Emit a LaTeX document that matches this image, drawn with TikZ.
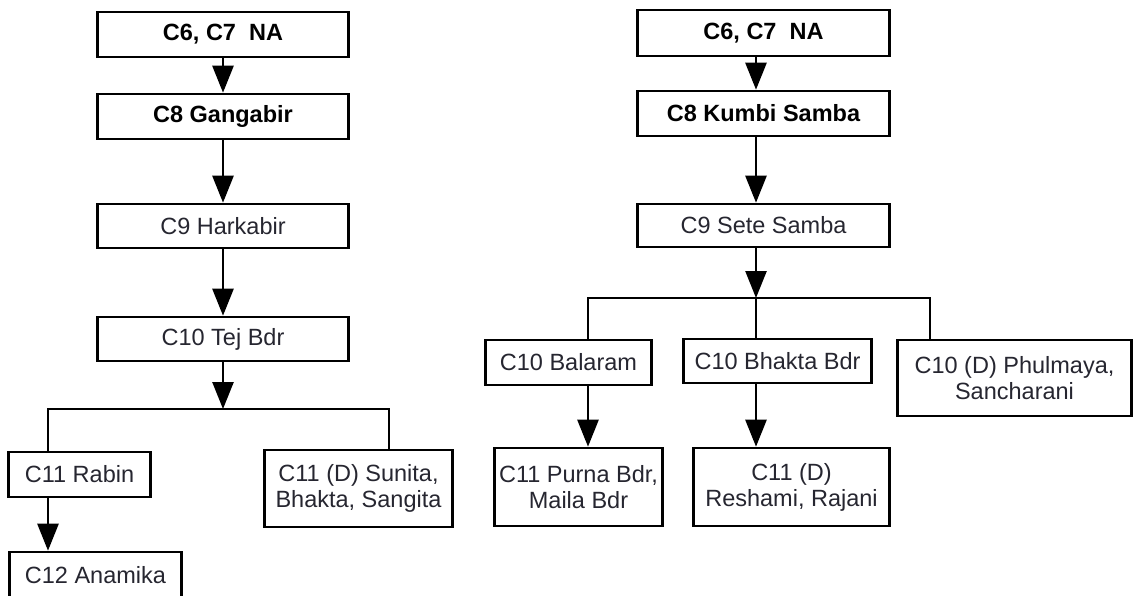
\documentclass[tikz,border=0pt]{standalone}
\usepackage{fontspec}
\setmainfont{Liberation Sans}
\usetikzlibrary{arrows.meta}
\definecolor{txt}{RGB}{38,38,48}
\tikzset{
  box/.style={draw=black, line width=2.6pt, fill=white, inner sep=0pt, align=center,
    text=txt, font=\fontsize{23.5}{26}\selectfont},
  topbox/.style={box, text=black, font=\fontsize{23.5}{26}\selectfont\bfseries},
  conn/.style={line width=2.6pt, draw=black},
  arr/.style={conn, -{Triangle[length=27pt,width=21pt]}}
}
\begin{document}
\begin{tikzpicture}[x=1pt,y=-1pt]
\path[use as bounding box, clip] (0,0) rectangle (1135,596);
% ---------- left tree ----------
\node[topbox, minimum width=251pt, minimum height=45pt] (a1) at (223,34.5) {C6, C7\ \ NA};
\node[topbox, minimum width=251pt, minimum height=45pt] (a2) at (223,116.5) {C8 Gangabir};
\node[box, minimum width=251pt, minimum height=44pt] (a3) at (223,226) {C9 Harkabir};
\node[box, minimum width=251pt, minimum height=44pt] (a4) at (223,339) {C10 Tej Bdr};
\node[box, minimum width=142pt, minimum height=45pt] (rabin) at (79.5,474.5) {C11 Rabin};
\node[box, minimum width=188pt, minimum height=77pt] (sunita) at (358.5,488.5) {C11 (D) Sunita,\\Bhakta, Sangita};
\node[box, minimum width=172pt, minimum height=46pt] (anamika) at (95.5,575) {C12 Anamika};
\coordinate (lbarL) at (48,409);
\coordinate (lbarR) at (389,409);
\coordinate (lbarM) at (223,409);
\draw[arr] (a1.south) -- (a2.north);
\draw[arr] (a2.south) -- (a3.north);
\draw[arr] (a3.south) -- (a4.north);
\draw[arr] (a4.south) -- (lbarM);
\draw[conn] (lbarL |- rabin.north) -- (lbarL) -- (lbarR) -- (lbarR |- sunita.north);
\draw[arr] (rabin.south -| lbarL) -- (anamika.north -| lbarL);
% ---------- right tree ----------
\coordinate (trunk) at (756,0);
\node[topbox, minimum width=252pt, minimum height=46pt] (b1) at (763.5,33) {C6, C7\ \ NA};
\node[topbox, minimum width=252pt, minimum height=45pt] (b2) at (763.5,113.5) {C8 Kumbi Samba};
\node[box, minimum width=252pt, minimum height=43pt] (b3) at (763.5,225.5) {C9 Sete Samba};
\node[box, minimum width=166pt, minimum height=45pt] (balaram) at (568.5,362.5) {C10 Balaram};
\node[box, minimum width=188pt, minimum height=44pt] (bhakta) at (777.5,361) {C10 Bhakta Bdr};
\node[box, minimum width=234pt, minimum height=76pt] (phul) at (1014.5,378) {C10 (D) Phulmaya,\\Sancharani};
\node[box, minimum width=168pt, minimum height=78pt] (purna) at (578.5,487) {C11 Purna Bdr,\\Maila Bdr};
\node[box, minimum width=196pt, minimum height=78pt] (resh) at (791.5,487) {C11 (D)\\Reshami, Rajani};
\coordinate (rbarL) at (588,298);
\coordinate (rbarR) at (930,298);
\coordinate (rbarM) at (756,298);
\draw[arr] (b1.south -| trunk) -- (b2.north -| trunk);
\draw[arr] (b2.south -| trunk) -- (b3.north -| trunk);
\draw[arr] (b3.south -| trunk) -- (rbarM);
\draw[conn] (rbarL |- balaram.north) -- (rbarL) -- (rbarR) -- (rbarR |- phul.north);
\draw[conn] (rbarM) -- (bhakta.north -| rbarM);
\draw[arr] (balaram.south -| rbarL) -- (purna.north -| rbarL);
\draw[arr] (bhakta.south -| rbarM) -- (resh.north -| rbarM);
\end{tikzpicture}
\end{document}
